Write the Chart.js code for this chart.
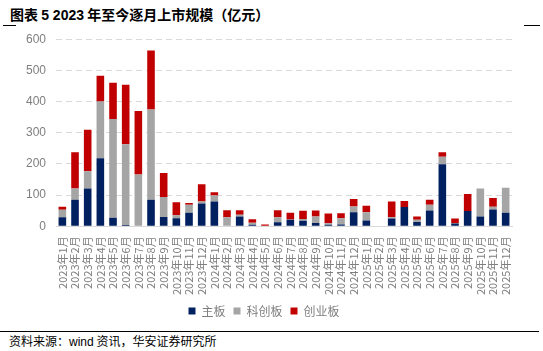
<!DOCTYPE html>
<html>
<head>
<meta charset="utf-8">
<script src="https://cdn.jsdelivr.net/npm/chart.js@4/dist/chart.umd.min.js"></script>
<style>
  html, body { margin: 0; padding: 0; background: #fff; }
  body { width: 543px; height: 351px; position: relative; overflow: hidden; font-family: "Noto Sans CJK SC", sans-serif; }
  .title { position: absolute; left: 10px; top: 4px; font-size: 14px; font-weight: bold; color: #000; white-space: nowrap; }
  .title .num { font-family: "Liberation Sans", Arial, sans-serif; }
  .rule { position: absolute; height: 1px; background: #000; }
  .source { position: absolute; left: 9px; top: 332px; font-size: 12px; color: #000; white-space: nowrap; }
  .source .lat { font-family: "Liberation Sans", Arial, sans-serif; }
  #wrap { position: absolute; left: 0; top: 22px; width: 543px; height: 305px; }
</style>
</head>
<body>
<div class="title">图表 <span class="num">5 2023</span> 年至今逐月上市规模（亿元）</div>
<div class="rule" style="left:3px; top:25px; width:13px;"></div>
<div class="rule" style="left:524px; top:25px; width:16px;"></div>
<div id="wrap"><canvas id="c"></canvas></div>
<div class="rule" style="left:0; top:331px; width:539px;"></div>
<div class="source">资料来源：<span class="lat">wind</span> 资讯，华安证券研究所</div>
<script>
// 月份
const months = [
  '2023年1月','2023年2月','2023年3月','2023年4月','2023年5月','2023年6月',
  '2023年7月','2023年8月','2023年9月','2023年10月','2023年11月','2023年12月',
  '2024年1月','2024年2月','2024年3月','2024年4月','2024年5月','2024年6月',
  '2024年7月','2024年8月','2024年9月','2024年10月','2024年11月','2024年12月',
  '2025年1月','2025年2月','2025年3月','2025年4月','2025年5月','2025年6月',
  '2025年7月','2025年8月','2025年9月','2025年10月','2025年11月','2025年12月'
];

// 各板块募资（亿元）
const mainBoard = [29, 85, 121, 218, 28, 4, 0, 85, 30, 26, 44, 73,
                   80, 0, 32, 5, 0, 13, 21, 18, 11, 5, 6, 45,
                   19, 0, 25, 62, 14, 51, 199, 9, 49, 32, 54, 44];
const starBoard = [24, 36, 56, 182, 316, 259, 166, 290, 64, 10, 25, 7,
                   19, 29, 5, 7, 0, 16, 1, 6, 21, 5, 20, 19,
                   26, 0, 4, 0, 7, 18, 24, 1, 0, 89, 9, 80];
const chinext   = [10, 117, 133, 83, 116, 191, 204, 189, 77, 41, 6, 55,
                   10, 23, 15, 11, 6, 23, 22, 26, 19, 31, 16, 24,
                   21, 0, 51, 19, 11, 16, 15, 15, 55, 0, 28, 0];

const yTicks = [0, 100, 200, 300, 400, 500, 600];

const gray = '#7f7f7f';

new Chart(document.getElementById('c'), {
  type: 'bar',
  data: {
    labels: months,
    datasets: [
      { label: '主板', data: mainBoard, backgroundColor: '#002060' },
      { label: '科创板', data: starBoard, backgroundColor: '#A5A5A5' },
      { label: '创业板', data: chinext, backgroundColor: '#C00000' },
    ],
  },
  options: {
    responsive: true,
    maintainAspectRatio: false,
    animation: false,
    layout: { padding: { left: 16, right: 31, top: 4, bottom: 0 } },
    datasets: { bar: { barPercentage: 0.6, categoryPercentage: 1 } },
    plugins: {
      legend: {
        position: 'bottom',
        labels: {
          color: gray,
          font: { size: 12, family: '"Noto Sans CJK SC", sans-serif' },
          boxWidth: 7, boxHeight: 7, padding: 8,
        },
      },
      tooltip: { enabled: false },
    },
    scales: {
      x: {
        stacked: true,
        grid: { display: false },
        border: { color: '#d9d9d9' },
        ticks: {
          color: gray, autoSkip: false, maxRotation: 90, minRotation: 90,
          padding: 2,
          font: { size: 11, family: '"Noto Sans CJK SC", sans-serif' },
        },
      },
      y: {
        stacked: true,
        min: 0, max: 600,
        afterBuildTicks: axis => { axis.ticks = yTicks.map(v => ({ value: v })); },
        grid: { color: '#d9d9d9', borderDash: [6, 4], drawTicks: false },
        border: { display: false, dash: [6, 4] },
        ticks: {
          color: gray, padding: 10,
          font: { size: 12, family: '"Liberation Sans", Arial, sans-serif' },
        },
      },
    },
  },
});
</script>
</body>
</html>
